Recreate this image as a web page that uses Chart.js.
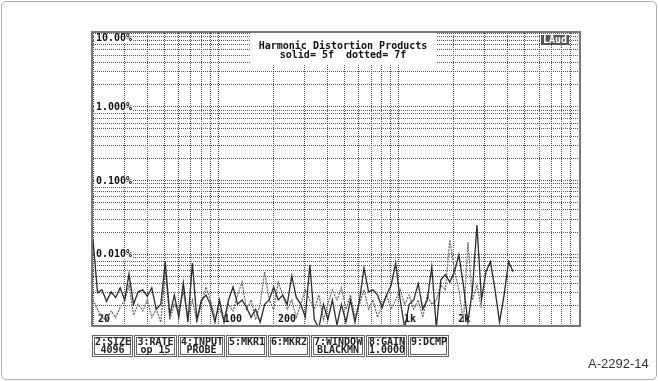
<!DOCTYPE html>
<html>
<head>
<meta charset="utf-8">
<script src="https://cdn.jsdelivr.net/npm/chart.js@4.4.1/dist/chart.umd.min.js"></script>
<style>
  html, body { margin: 0; padding: 0; background: #fff; }
  #page { position: relative; width: 658px; height: 381px; overflow: hidden; }
  #edge { position: absolute; left: 1px; top: 1px; width: 654px; height: 377px; border: 1px solid #b0b0b0; border-radius: 5px; }
  #wrap { position: absolute; left: 0; top: 0; width: 658px; height: 381px; }
  .key { position: absolute; top: 335px; height: 22px; box-sizing: border-box; border: 3px double #666;
         font: bold 10px "DejaVu Sans Mono", monospace; line-height: 8px; color: #222; text-align: center; white-space: pre; }
  #fig { position: absolute; left: 588px; top: 356px; font: 13px "Liberation Sans", Arial, sans-serif; color: #333; }
</style>
</head>
<body>
<div id="page">
  <div id="edge"></div>
  <div id="wrap"><canvas id="chart"></canvas></div>
  <div id="keys"></div>
  <div id="fig">A-2292-14</div>
</div>
<script>
// fundamental frequency (Hz)
const freqs = [
  20, 21.2, 22.4, 23.8, 25.2, 26.7, 28.3, 30.0, 31.7, 33.6, 35.6, 37.8,
  40, 42.4, 44.9, 47.6, 50.4, 53.4, 56.6, 59.9, 63.5, 67.3, 71.3, 75.5,
  80, 84.8, 89.8, 95.1, 100.8, 106.8, 113.1, 119.9, 127, 134.5, 142.5, 151,
  160, 169.5, 179.6, 190.3, 201.6, 213.6, 226.3, 239.7, 254, 269.1, 285.1, 302,
  320, 339, 359, 381, 403, 427, 453, 479, 508, 538, 570, 604,
  640, 678, 718, 761, 806, 854, 905, 959, 1016, 1076, 1140, 1208,
  1280, 1356, 1437, 1522, 1613, 1709, 1810, 1918, 2032, 2153, 2281, 2417,
  2560, 2712, 2874, 3044, 3225, 3417, 3620, 3836, 4064, 4305
];

// 5th harmonic, % (solid)
const fifth = [
  0.0157, 0.0030, 0.0033, 0.0023, 0.0031, 0.0026, 0.0035, 0.0024, 0.0054, 0.0021, 0.0031, 0.0033,
  0.0027, 0.0035, 0.0018, 0.0021, 0.0079, 0.0015, 0.0028, 0.0014, 0.0041, 0.0012, 0.0076, 0.0013,
  0.0024, 0.0028, 0.0021, 0.0012, 0.0024, 0.0012, 0.0024, 0.0036, 0.0021, 0.0024, 0.0019, 0.0014,
  0.0018, 0.0012, 0.0021, 0.0024, 0.0036, 0.0024, 0.0028, 0.0021, 0.0051, 0.0026, 0.0021, 0.0014,
  0.0072, 0.0013, 0.0010, 0.0021, 0.0013, 0.0024, 0.0011, 0.0021, 0.0012, 0.0024, 0.0012, 0.0024,
  0.0065, 0.0031, 0.0033, 0.0028, 0.0019, 0.0028, 0.0038, 0.0076, 0.0024, 0.0010, 0.0021, 0.0024,
  0.0040, 0.0018, 0.0024, 0.0068, 0.0010, 0.0045, 0.0053, 0.0042, 0.0058, 0.0098, 0.0038, 0.0012,
  0.0033, 0.0250, 0.0024, 0.0058, 0.0079, 0.0033, 0.0012, 0.0028, 0.0079, 0.0058
];

// 7th harmonic, % (dotted)
const seventh = [
  0.0024, 0.0018, 0.0014, 0.0013, 0.0017, 0.0014, 0.0019, 0.0024, 0.0038, 0.0015, 0.0021, 0.0017,
  0.0024, 0.0014, 0.0018, 0.0012, 0.0061, 0.0013, 0.0021, 0.0017, 0.0031, 0.0014, 0.0024, 0.0012,
  0.0021, 0.0036, 0.0024, 0.0014, 0.0018, 0.0013, 0.0021, 0.0017, 0.0028, 0.0042, 0.0018, 0.0024,
  0.0013, 0.0021, 0.0058, 0.0024, 0.0018, 0.0042, 0.0028, 0.0018, 0.0024, 0.0014, 0.0021, 0.0033,
  0.0024, 0.0018, 0.0028, 0.0013, 0.0021, 0.0033, 0.0024, 0.0035, 0.0018, 0.0028, 0.0014, 0.0021,
  0.0033, 0.0018, 0.0024, 0.0014, 0.0021, 0.0028, 0.0018, 0.0024, 0.0033, 0.0021, 0.0028, 0.0018,
  0.0024, 0.0014, 0.0028, 0.0021, 0.0024, 0.0038, 0.0033, 0.0157, 0.0061, 0.0033, 0.0012, 0.0147,
  0.0024, 0.0038, 0.0018
];

const xGrid = [20, 30, 40, 50, 60, 70, 80, 90, 100, 200, 300, 400, 500, 600, 700, 800, 900,
  1000, 2000, 3000, 4000, 5000, 6000, 7000, 8000, 9000, 10000];
const yGrid = [0.002, 0.003, 0.004, 0.005, 0.006, 0.007, 0.008, 0.009,
  0.01, 0.02, 0.03, 0.04, 0.05, 0.06, 0.07, 0.08, 0.09,
  0.1, 0.2, 0.3, 0.4, 0.5, 0.6, 0.7, 0.8, 0.9,
  1, 2, 3, 4, 5, 6, 7, 8, 9, 10];

const xLabelValues = [20, 100, 200, 1000, 2000];
const xLabels = ['20', '100', '200', '1k', '2k'];
const yLabelValues = [10, 1, 0.1, 0.01];
const yLabels = ['10.00%', '1.000%', '0.100%', '0.010%'];

const titleLines = ['Harmonic Distortion Products', 'solid= 5f  dotted= 7f'];

const keyTop = ['2:SIZE', '3:RATE', '4:INPUT', '5:MKR1', '6:MKR2', '7:WINDOW', '8:GAIN', '9:DCMP'];
const keyBottom = ['4096', 'op 15', 'PROBE', '', '', 'BLACKMN', '1.0000', ''];
const keyLeft = [92, 134, 178, 226, 268, 311, 366, 408];
const keyWidth = [41, 43, 47, 41, 42, 54, 41, 41];

const keys = document.getElementById('keys');
keyTop.forEach((t, i) => {
  const d = document.createElement('div');
  d.className = 'key';
  d.style.left = keyLeft[i] + 'px';
  d.style.width = keyWidth[i] + 'px';
  d.textContent = t + '\n' + keyBottom[i];
  keys.appendChild(d);
});

const mono = 'bold 10px "DejaVu Sans Mono", monospace';

const overlay = {
  id: 'overlay',
  beforeDatasetsDraw(chart) {
    const { ctx, chartArea: a, scales: { x, y } } = chart;
    ctx.save();
    ctx.font = mono;
    ctx.textBaseline = 'middle';

    // title panel
    ctx.fillStyle = '#fff';
    ctx.fillRect(250, a.top, 187, 31);
    ctx.fillStyle = '#111';
    ctx.textAlign = 'center';
    ctx.fillText(titleLines[0], 343, a.top + 13);
    ctx.fillText(titleLines[1], 343, a.top + 22);

    // y labels
    ctx.textAlign = 'left';
    yLabelValues.forEach((v, i) => {
      const py = Math.max(y.getPixelForValue(v), a.top + 5);
      const w = ctx.measureText(yLabels[i]).width;
      ctx.fillStyle = '#fff';
      ctx.fillRect(a.left + 1, py - 4, w + 3, 9);
      ctx.fillStyle = '#111';
      ctx.fillText(yLabels[i], a.left + 3, py + 0.5);
    });

    // x labels
    xLabelValues.forEach((v, i) => {
      const px = x.getPixelForValue(v);
      const w = ctx.measureText(xLabels[i]).width;
      ctx.fillStyle = '#fff';
      ctx.fillRect(px + 4, a.bottom - 10, w + 2, 9);
      ctx.fillStyle = '#111';
      ctx.fillText(xLabels[i], px + 5, a.bottom - 5.5);
    });

    // LAud badge
    ctx.fillStyle = '#555';
    ctx.fillRect(541, a.top + 2, 28, 10);
    ctx.fillStyle = '#fff';
    ctx.fillText('LAud', 543, a.top + 7.5);
    ctx.restore();
  },
  afterDraw(chart) {
    const { ctx, chartArea: a } = chart;
    ctx.save();
    ctx.strokeStyle = '#777';
    ctx.lineWidth = 2;
    ctx.strokeRect(a.left - 1, a.top - 1, a.right - a.left + 2, a.bottom - a.top + 2);
    ctx.restore();
  }
};

new Chart(document.getElementById('chart'), {
  type: 'line',
  data: {
    datasets: [
      {
        label: '5f',
        data: fifth.map((v, i) => ({ x: freqs[i], y: v })),
        borderColor: '#2b2b2b',
        borderWidth: 1.3,
        pointRadius: 0,
        tension: 0
      },
      {
        label: '7f',
        data: seventh.map((v, i) => ({ x: freqs[i], y: v })),
        borderColor: '#666',
        borderWidth: 1.2,
        borderDash: [2, 1],
        pointRadius: 0,
        tension: 0
      }
    ]
  },
  options: {
    responsive: true,
    maintainAspectRatio: false,
    animation: false,
    layout: { padding: { left: 93, right: 79, top: 33, bottom: 56 } },
    plugins: { legend: { display: false }, tooltip: { enabled: false } },
    scales: {
      x: {
        type: 'logarithmic',
        min: 20,
        max: 10000,
        afterBuildTicks: s => { s.ticks = xGrid.map(v => ({ value: v })); },
        ticks: { display: false },
        grid: { color: '#555', lineWidth: 1, drawTicks: false },
        border: { display: false, dash: [1, 1] }
      },
      y: {
        type: 'logarithmic',
        min: 0.0011,
        max: 10,
        afterBuildTicks: s => { s.ticks = yGrid.map(v => ({ value: v })); },
        ticks: { display: false },
        grid: { color: '#555', lineWidth: 1, drawTicks: false },
        border: { display: false, dash: [1, 1] }
      }
    }
  },
  plugins: [overlay]
});
</script>
</body>
</html>
